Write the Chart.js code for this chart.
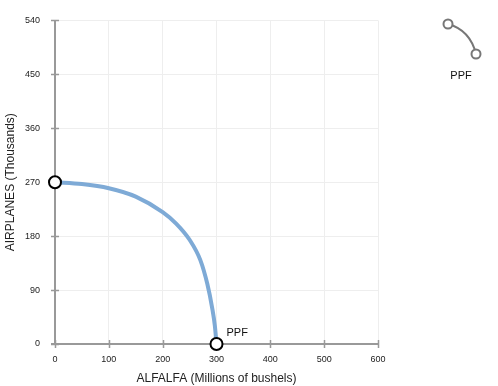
<!DOCTYPE html>
<html>
<head>
<meta charset="utf-8">
<script src="https://cdn.jsdelivr.net/npm/chart.js@4"></script>
<style>
  html, body { margin: 0; padding: 0; background: #fff; }
  #wrap { width: 498px; height: 386px; position: relative; }
</style>
</head>
<body>
<div id="wrap"><canvas id="ppfChart"></canvas></div>
<script>
// ---- data ----
const alfalfa = [0, 50, 100, 150, 200, 225, 250, 270, 283, 292, 297, 300];
const airplanes = [270, 267, 260, 246, 220, 201, 174, 140, 100, 60, 30, 0];
const xTicks = [0, 100, 200, 300, 400, 500, 600];
const yTicks = [0, 90, 180, 270, 360, 450, 540];
const seriesName = "PPF";

const FONT = "'Liberation Sans', Arial, sans-serif";
const lastIdx = alfalfa.length - 1;

// axis lines with cross tick marks, drawn under the curve
const axisTicks = {
  id: "axisTicks",
  beforeDatasetsDraw(chart) {
    const { ctx, chartArea: a, scales: { x, y } } = chart;
    ctx.save();
    ctx.strokeStyle = "#999";
    ctx.lineWidth = 2;
    ctx.beginPath();
    ctx.moveTo(a.left, a.top);
    ctx.lineTo(a.left, a.bottom);
    ctx.moveTo(a.left - 4, a.bottom);
    ctx.lineTo(a.right, a.bottom);
    ctx.stroke();
    ctx.lineWidth = 1.5;
    ctx.beginPath();
    yTicks.forEach(v => {
      const py = Math.round(y.getPixelForValue(v)) + 0.5;
      ctx.moveTo(a.left - 4, py);
      ctx.lineTo(a.left + 4, py);
    });
    xTicks.forEach(v => {
      const px = Math.round(x.getPixelForValue(v)) + 0.5;
      ctx.moveTo(px, a.bottom - 4);
      ctx.lineTo(px, a.bottom + 4);
    });
    ctx.stroke();
    ctx.restore();
  }
};

// "PPF" label at the end of the curve + legend icon top right
const ppfLabels = {
  id: "ppfLabels",
  afterDraw(chart) {
    const { ctx, scales: { x, y } } = chart;
    ctx.save();
    ctx.font = "11px " + FONT;
    ctx.fillStyle = "#111";
    ctx.textBaseline = "alphabetic";
    ctx.textAlign = "left";
    const ex = x.getPixelForValue(alfalfa[lastIdx]);
    const ey = y.getPixelForValue(airplanes[lastIdx]);
    ctx.fillText(seriesName, ex + 10, ey - 8);

    // legend icon
    ctx.strokeStyle = "#777";
    ctx.lineWidth = 2;
    ctx.beginPath();
    ctx.moveTo(448, 24);
    ctx.quadraticCurveTo(470, 30, 476, 54);
    ctx.stroke();
    [[448, 24], [476, 54]].forEach(([cx, cy]) => {
      ctx.beginPath();
      ctx.arc(cx, cy, 4.5, 0, Math.PI * 2);
      ctx.fillStyle = "#fff";
      ctx.fill();
      ctx.stroke();
    });
    ctx.fillStyle = "#111";
    ctx.textAlign = "center";
    ctx.fillText(seriesName, 461, 79);
    ctx.restore();
  }
};

new Chart(document.getElementById("ppfChart"), {
  type: "line",
  data: {
    datasets: [{
      label: seriesName,
      data: alfalfa.map((v, i) => ({ x: v, y: airplanes[i] })),
      borderColor: "#7eaad6",
      borderWidth: 4,
      cubicInterpolationMode: "monotone",
      fill: false,
      pointRadius: ctx => (ctx.dataIndex === 0 || ctx.dataIndex === lastIdx) ? 6 : 0,
      pointHoverRadius: 0,
      pointBackgroundColor: "#fff",
      pointBorderColor: "#000",
      pointBorderWidth: 2,
      clip: false
    }]
  },
  options: {
    responsive: true,
    maintainAspectRatio: false,
    animation: false,
    layout: { padding: { top: 20, right: 120, left: 0, bottom: 0 } },
    plugins: { legend: { display: false }, tooltip: { enabled: false } },
    scales: {
      x: {
        type: "linear",
        min: 0, max: 600,
        afterBuildTicks: s => { s.ticks = xTicks.map(v => ({ value: v })); },
        afterFit: s => { s.height = 42; },
        grid: { color: "#eeeeee", lineWidth: 1, drawTicks: false },
        border: { display: false },
        ticks: { padding: 10, color: "#222", font: { family: FONT, size: 9 }, maxRotation: 0 },
        title: { display: true, text: "ALFALFA (Millions of bushels)", color: "#222",
                 font: { family: FONT, size: 12 }, padding: { top: 2, bottom: 0 } }
      },
      y: {
        type: "linear",
        min: 0, max: 540,
        afterBuildTicks: s => { s.ticks = yTicks.map(v => ({ value: v })); },
        afterFit: s => { s.width = 55; },
        grid: { color: "#eeeeee", lineWidth: 1, drawTicks: false },
        border: { display: false },
        ticks: { padding: 15, color: "#222", font: { family: FONT, size: 9 } },
        title: { display: true, text: "AIRPLANES (Thousands)", color: "#222",
                 font: { family: FONT, size: 12 }, padding: { top: 3, bottom: 0 } }
      }
    }
  },
  plugins: [axisTicks, ppfLabels]
});
</script>
</body>
</html>
